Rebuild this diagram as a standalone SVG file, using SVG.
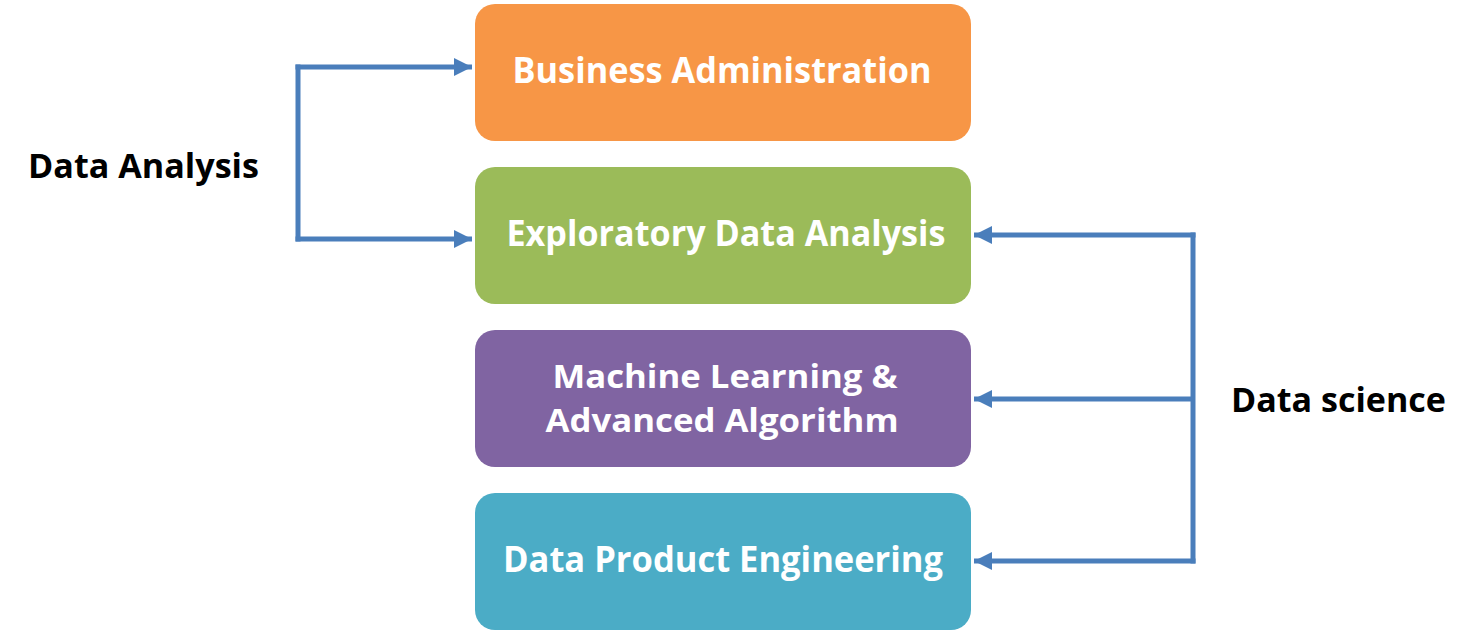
<svg xmlns="http://www.w3.org/2000/svg" width="1472" height="634" viewBox="0 0 1472 634">
<style>
.box{stroke:none}
.t{font-family:"Open Sans","Liberation Sans",sans-serif;font-weight:bold;font-size:36px;fill:#ffffff;text-anchor:middle}
.t2{font-size:32px}
.lbl{font-family:"Open Sans","Liberation Sans",sans-serif;font-weight:bold;font-size:34px;fill:#000000}
.c{fill:none;stroke:#4A7EBB;stroke-width:5;stroke-linejoin:miter}
</style>
<defs>
<marker id="ah" markerUnits="userSpaceOnUse" markerWidth="20" markerHeight="18" refX="18" refY="9" orient="auto">
<path d="M0,0 L18,9 L0,18 Z" fill="#4A7EBB"/>
</marker>
</defs>
<rect width="1472" height="634" fill="#ffffff"/>
<g id="connectors">
<path class="c" d="M298,64.5 L298,241.5"/>
<path class="c" d="M295.5,67 L472,67" marker-end="url(#ah)"/>
<path class="c" d="M295.5,239 L472,239" marker-end="url(#ah)"/>
<path class="c" d="M1193,232.5 L1193,563.5"/>
<path class="c" d="M1195.5,235 L974,235" marker-end="url(#ah)"/>
<path class="c" d="M1193,399 L974,399" marker-end="url(#ah)"/>
<path class="c" d="M1195.5,561 L974,561" marker-end="url(#ah)"/>
</g>
<g id="node-business">
<rect class="box" x="475" y="4" width="496" height="137" rx="20" fill="#F79646"/>
<text class="t" x="722" y="83" textLength="419" lengthAdjust="spacingAndGlyphs">Business Administration</text>
</g>
<g id="node-eda">
<rect class="box" x="475" y="167" width="496" height="137" rx="20" fill="#9BBB59"/>
<text class="t" x="726" y="246" textLength="439" lengthAdjust="spacingAndGlyphs">Exploratory Data Analysis</text>
</g>
<g id="node-ml">
<rect class="box" x="475" y="330" width="496" height="137" rx="20" fill="#8064A2"/>
<text class="t t2" x="725" y="388" textLength="345" lengthAdjust="spacingAndGlyphs">Machine Learning &amp;</text>
<text class="t t2" x="722" y="432" textLength="353" lengthAdjust="spacingAndGlyphs">Advanced Algorithm</text>
</g>
<g id="node-dpe">
<rect class="box" x="475" y="493" width="496" height="137" rx="20" fill="#4BACC6"/>
<text class="t" x="723" y="572" textLength="440" lengthAdjust="spacingAndGlyphs">Data Product Engineering</text>
</g>
<g id="label-data-analysis">
<text class="lbl" x="28" y="178" textLength="231" lengthAdjust="spacingAndGlyphs">Data Analysis</text>
</g>
<g id="label-data-science">
<text class="lbl" x="1231" y="412" textLength="215" lengthAdjust="spacingAndGlyphs">Data science</text>
</g>
</svg>
